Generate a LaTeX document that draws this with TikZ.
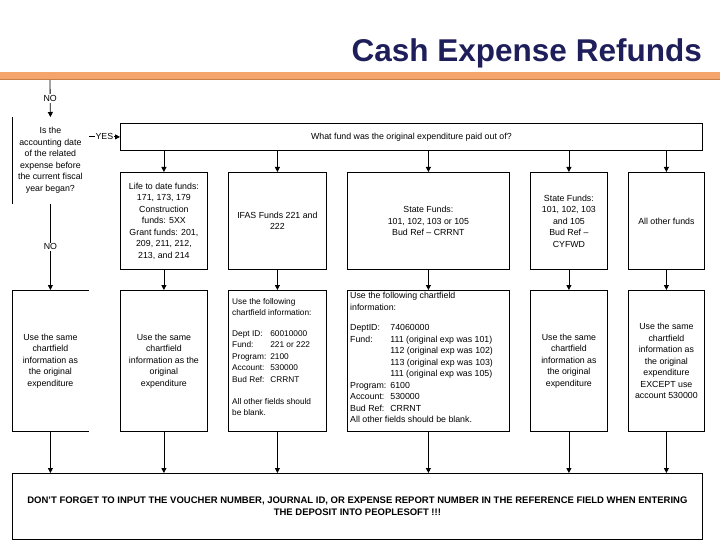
\documentclass[tikz,border=0pt]{standalone}
\usepackage{fontspec}
\setmainfont{Liberation Sans}
\usetikzlibrary{arrows.meta, positioning, calc}
\definecolor{TitleNavy} {HTML}{1E1E5A}
\definecolor{BarOrange} {HTML}{F5A56C}
\definecolor{BarEdge}   {HTML}{C98048}

\begin{document}
\begin{tikzpicture}[x=1pt, y=-1pt,
  every node/.style={font=\fontsize{8.8}{11.5}\selectfont},
  box/.style={draw, line width=0.8pt, align=center, inner sep=2pt,
              anchor=north west},
  plain/.style={box, draw=none},
  txt/.style={align=left, inner sep=0pt, anchor=north west},
  lbl/.style={fill=white, inner sep=1pt},
  arr/.style={-{Triangle[length=5pt, width=5pt]}, line width=0.8pt},
]
  \useasboundingbox (0,0) rectangle (720,540);
  \node[anchor=base east, font=\fontsize{31.5}{31.5}\selectfont\bfseries,
        text=TitleNavy, inner sep=0pt] (title) at (702,62)
        {Cash Expense Refunds};
  \fill[BarOrange] (0,72) rectangle (720,79);
  \draw[BarEdge, line width=1pt] (0,79.5) -- (720,79.5);

  \node[plain, minimum width=76, minimum height=86] (q) at (12,117)
    {Is the\\ accounting date\\ of the related\\ expense before\\
     the current fiscal\\ year began?};
  \draw[line width=0.8pt] (q.north west) -- (q.south west);
  \coordinate (start) at (50,80);

  \node[box, minimum width=582, minimum height=27] (fund) at (120,123)
    {What fund was the original expenditure paid out of?};

  \node[box, minimum width=87,  minimum height=97] (b1) at (120,172)
    {Life to date funds:\\ 171, 173, 179\\ Construction\\ funds: 5XX\\
     Grant funds: 201,\\ 209, 211, 212,\\ 213, and 214};
  \node[box, minimum width=98,  minimum height=97] (b2) at (228,172)
    {IFAS Funds 221 and\\ 222};
  \node[box, minimum width=162, minimum height=97] (b3) at (347,172)
    {State Funds:\\ 101, 102, 103 or 105\\ Bud Ref -- CRRNT};
  \node[box, minimum width=77,  minimum height=97] (b4) at (530,172)
    {State Funds:\\ 101, 102, 103\\ and 105\\ Bud Ref --\\ CYFWD};
  \node[box, minimum width=76,  minimum height=97] (b5) at (628,172)
    {All other funds};

  \node[plain, minimum width=76, minimum height=141] (c0) at (12,290)
    {Use the same\\ chartfield\\ information as\\ the original\\ expenditure};
  \draw[line width=0.8pt] (c0.north east) -- (c0.north west)
    -- (c0.south west) -- (c0.south east);
  \node[box, minimum width=87,  minimum height=141] (c1) at (120,290)
    {Use the same\\ chartfield\\ information as the\\ original\\ expenditure};
  \node[box, minimum width=98,  minimum height=141] (c2) at (228,290) {};
  \node[txt, font=\fontsize{8.3}{11.5}\selectfont] (c2txt)
    at ([shift={(4,8)}]c2.north west)
    {Use the following\\ chartfield information:\\[11.5pt]
     \begin{tabular}{@{}l@{\hspace{4pt}}l@{}}
       Dept ID: & 60010000\\ Fund: & 221 or 222\\ Program: & 2100\\
       Account: & 530000\\ Bud Ref: & CRRNT
     \end{tabular}\\[11.5pt]
     All other fields should\\ be blank.};
  \node[box, minimum width=162, minimum height=141] (c3) at (347,290) {};
  \node[txt] (c3txt) at ([shift={(3,2)}]c3.north west)
    {Use the following chartfield\\ information:\\[11.5pt]
     \begin{tabular}{@{}l@{\hspace{4pt}}l@{}}
       DeptID: & 74060000\\ Fund: & 111 (original exp was 101)\\
               & 112 (original exp was 102)\\
               & 113 (original exp was 103)\\
               & 111 (original exp was 105)\\
       Program: & 6100\\ Account: & 530000\\ Bud Ref: & CRRNT
     \end{tabular}\\
     All other fields should be blank.};
  \node[box, minimum width=77,  minimum height=141] (c4) at (530,290)
    {Use the same\\ chartfield\\ information as\\ the original\\ expenditure};
  \node[box, minimum width=76,  minimum height=141] (c5) at (628,290)
    {Use the same\\ chartfield\\ information as\\ the original\\ expenditure\\
     EXCEPT use\\ account 530000};

  \node[box, minimum width=690, minimum height=66,
        font=\fontsize{9.5}{12}\selectfont\bfseries] (note) at (12,473)
    {DON'T FORGET TO INPUT THE VOUCHER NUMBER, JOURNAL ID, OR EXPENSE REPORT
     NUMBER IN THE REFERENCE FIELD WHEN ENTERING\\
     THE DEPOSIT INTO PEOPLESOFT !!!};

  \draw[arr] (start) -- node[lbl]{NO} (q.north);
  \draw[arr] (q.south) -- node[lbl]{NO} (c0.north);
  \draw[arr] (q.east |- fund.west) -- node[lbl]{YES} (fund.west);
  \foreach \i in {1,...,5}{
    \draw[arr] (fund.south -| b\i.north) -- (b\i.north);
    \draw[arr] (b\i.south) -- (c\i.north);
  }
  \foreach \i in {0,...,5}
    \draw[arr] (c\i.south) -- (c\i.south |- note.north);
\end{tikzpicture}
\end{document}
